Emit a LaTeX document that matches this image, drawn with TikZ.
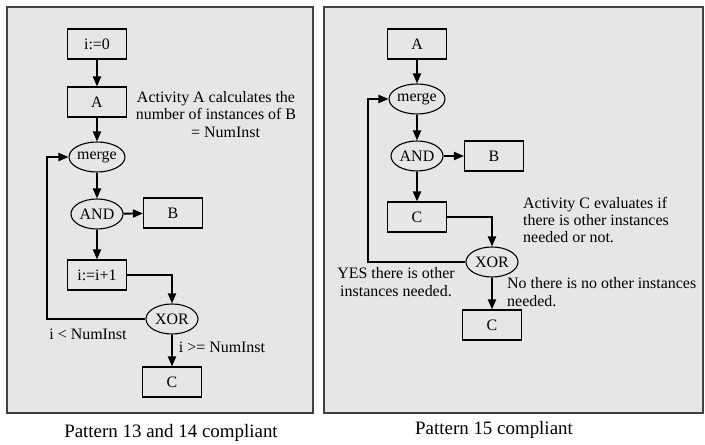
\documentclass[tikz,border=0pt]{standalone}
\usepackage{fontspec}
\setmainfont{Liberation Serif}
\usetikzlibrary{shapes.geometric,arrows.meta}
\definecolor{panelbg}{HTML}{E6E6E6}
\definecolor{framec}{HTML}{404040}
\begin{document}
\begin{tikzpicture}[x=1bp,y=-1bp,
  every node/.style={font=\fontsize{16}{17.5}\selectfont},
  box/.style={draw, line width=1.1bp, rectangle, minimum width=59bp, minimum height=30bp, inner sep=0pt},
  gate/.style={draw, line width=1.1bp, ellipse, minimum width=52bp, minimum height=30bp, inner sep=0pt},
  arr/.style={line width=1.9bp, -{Triangle[length=10bp,width=8bp]}},
  txt/.style={inner sep=0pt},
  panel/.style={draw=framec, line width=1.1bp, fill=panelbg},
  caption/.style={inner sep=0pt, font=\fontsize{19}{22}\selectfont}]
\useasboundingbox (0,0) rectangle (705,445);
\fill[white] (0,0) rectangle (705,445);
\draw[panel] (7,7) rectangle (313,413);
\draw[panel] (324,7) rectangle (703,413);

% Left panel
\node[box] (i0) at (97,44) {i:=0};
\node[box] (A) at (97,102) {A};
\node[gate] (merge) at (97,157) {merge};
\node[gate] (and) at (97,214) {AND};
\node[box] (B) at (173,213) {B};
\node[box] (inc) at (97,275) {i:=i+1};
\node[gate] (xor) at (172,319) {XOR};
\node[box] (C) at (172,382) {C};
\coordinate (lp) at (47,0);
\node[txt, align=center] (noteA) at (216,114.5) {Activity A calculates the\\number of instances of B\\ \hspace*{1.2em}= NumInst};
\node[txt] (lt) at (88,334) {i < NumInst};
\node[txt] (ge) at (222,347) {i >= NumInst};

\draw[arr] (i0) -- (A);
\draw[arr] (A) -- (merge);
\draw[arr] (merge) -- (and);
\draw[arr] (and) -- (B);
\draw[arr] (and) -- (inc);
\draw[arr] (inc.east) -| (xor.north);
\draw[arr] (xor) -- (C);
\draw[arr] (xor.west) -- (xor.west -| lp) |- (merge.west);

% Right panel
\node[box] (rA) at (417,44) {A};
\node[gate] (rmerge) at (417,99) {merge};
\node[gate] (rand) at (417,156) {AND};
\node[box] (rB) at (494,156) {B};
\node[box] (rC) at (417,217) {C};
\node[gate] (rxor) at (492,262) {XOR};
\node[box] (rC2) at (492,325) {C};
\coordinate (rlp) at (368,0);
\node[txt, align=left, anchor=west] (noteC) at (523,220) {Activity C evaluates if\\there is other instances\\needed or not.};
\node[txt, align=center] (yes) at (396,282) {YES there is other\\instances needed.};
\node[txt, align=left, anchor=west] (no) at (507,292) {No there is no other instances\\needed.};

\draw[arr] (rA) -- (rmerge);
\draw[arr] (rmerge) -- (rand);
\draw[arr] (rand) -- (rB);
\draw[arr] (rand) -- (rC);
\draw[arr] (rC.east) -| (rxor.north);
\draw[arr] (rxor) -- (rC2);
\draw[arr] (rxor.west) -- (rxor.west -| rlp) |- (rmerge.west);

% Captions
\node[caption] (cap1) at (171,433) {Pattern 13 and 14 compliant};
\node[caption] (cap2) at (494,430) {Pattern 15 compliant};
\end{tikzpicture}
\end{document}
